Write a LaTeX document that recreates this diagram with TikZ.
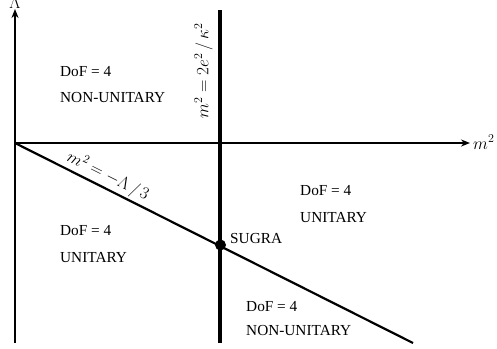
\documentclass[tikz,border=0pt]{standalone}
\usepackage{fontspec}
\setmainfont{Liberation Serif}
\DeclareMathSizes{16}{16}{12.5}{10}
\usetikzlibrary{arrows.meta}
\begin{document}
\begin{tikzpicture}[x=1pt,y=-1pt,
  axis/.style={line width=2.2pt,-{Stealth[length=9pt,width=7pt]}},
  region/.style={anchor=west,inner sep=0pt,font=\fontsize{15.3}{18}\selectfont},
  mlabel/.style={inner sep=1pt,font=\fontsize{16}{19}\selectfont}]
\useasboundingbox (0,0) rectangle (497,348);
\coordinate (O) at (15,143);
\coordinate (ybot) at (15,343);
\coordinate (ytop) at (15,9);
\coordinate (xend) at (470,143);
\coordinate (vtop) at (220,10);
\coordinate (vbot) at (220,343);
\coordinate (dend) at (413,343);
\draw[axis] (ybot) -- (ytop);
\draw[axis] (O) -- (xend);
\node[mlabel,anchor=base west,inner sep=0pt] (xl) at (473,149) {$m^2$};
\node[mlabel,anchor=south,inner sep=0pt] (yl) at (15,9) {$\Lambda$};
\draw[line width=4.5pt] (vtop) -- (vbot);
\node[mlabel,rotate=90,anchor=south,inner sep=2pt] (vl) at (215,71) {$m^2=2e^2\,/\,\kappa^2$};
\draw[line width=2.2pt] (O) -- (dend) node[mlabel,pos=0.22,sloped,above,inner sep=2pt] (dl) {$m^2=-\Lambda\,/\,3$};
\node[circle,fill,inner sep=0pt,minimum size=11pt] (sugra) at (220.5,245) {};
\node[region] (sl) at (230,239) {SUGRA};
\node[region] (a1) at (60,72) {DoF = 4};
\node[region] (a2) at (60,98) {NON-UNITARY};
\node[region] (b1) at (60,231) {DoF = 4};
\node[region] (b2) at (60,258) {UNITARY};
\node[region] (c1) at (300,191) {DoF = 4};
\node[region] (c2) at (300,218) {UNITARY};
\node[region] (d1) at (246,307) {DoF = 4};
\node[region] (d2) at (246,331) {NON-UNITARY};
\end{tikzpicture}
\end{document}
